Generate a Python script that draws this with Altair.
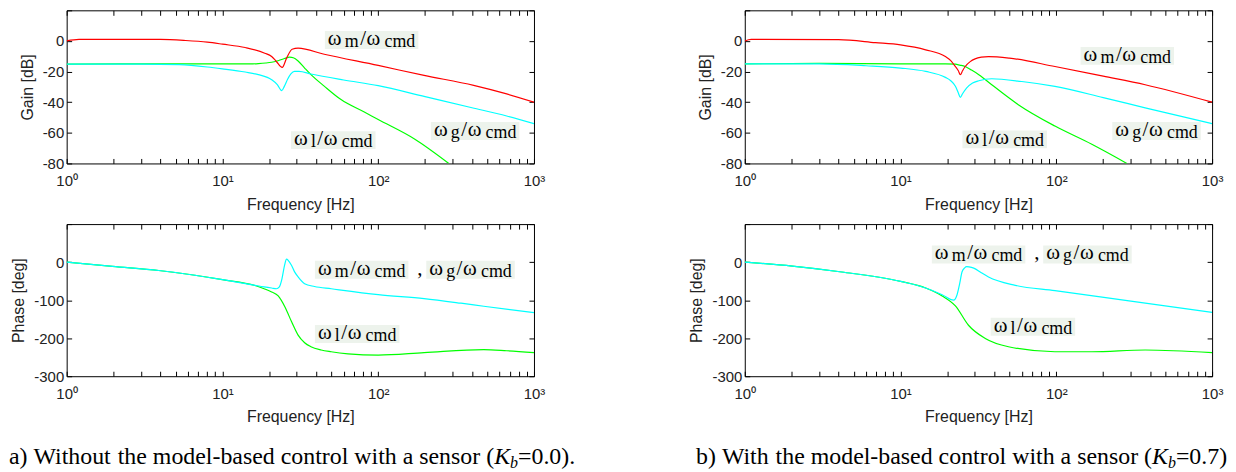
import altair as alt
import pandas as pd

# ------------------------------------------------------------------ data
# a) Kb = 0.0 : gain [dB]
FREQ_GA_M = [1, 1.2, 2, 3, 4, 5.8, 8, 10, 14, 18.7, 20.7, 22.2, 24.2, 25.8, 28, 30.6, 45, 100, 197, 410, 668, 1000]
GAIN_A_M = [0, 1, 1, 1, 1, 0.3, -0.8, -2.1, -4.3, -8, -10.2, -13.4, -17.3, -11.3, -5.4, -4.7, -8.7, -16, -22.5, -29, -34.6, -40]
FREQ_GA_G = [1, 3, 5.3, 8, 10, 14, 17, 20.7, 22.5, 24, 25, 26.2, 27.5, 29, 31, 37, 60, 100, 200, 400, 668, 1000]
GAIN_A_G = [-15.1, -15.1, -15.5, -17, -18.2, -20.3, -22, -25.3, -28.5, -32.5, -29.5, -25, -21.5, -19.9, -19.9, -21.6, -25.5, -29.2, -36.4, -43.6, -49, -54]
FREQ_GA_L = [1, 5.3, 10, 15, 17, 19, 20.7, 23, 25, 27, 28.5, 30.6, 33.7, 37, 45, 57.7, 82, 100, 171, 284]
GAIN_A_L = [-15.1, -15, -15, -15, -14.8, -14.4, -13.9, -12.8, -11.5, -10.6, -11, -13.1, -17.7, -22, -29.5, -38.3, -46.6, -51.3, -64, -80]

# a) Kb = 0.0 : phase [deg]
FREQ_PA_MG = [1, 1.97, 3.9, 10, 16.2, 18.5, 20.7, 22.2, 23.2, 24.1, 25, 25.8, 26.5, 27.8, 29, 30.6, 33.7, 39, 50, 100, 197, 340, 476, 1000]
PHASE_A_MG = [0, -11.4, -22, -46, -61, -65, -68, -70, -65, -44, -10, 8, 4, -9, -25, -39, -56.8, -64, -70, -85.6, -96, -108, -116, -133]
FREQ_PA_L = [1, 1.97, 3.9, 10, 16.2, 18.5, 20.7, 22.8, 25.2, 27.8, 30.6, 33.7, 37, 43, 49.9, 64, 100, 197, 476, 668, 1000]
PHASE_A_L = [0, -11.4, -22, -46, -61.5, -70, -78.5, -89, -118, -157, -192, -212, -222.5, -231, -235.6, -241, -244.5, -238, -230, -233, -238]

# b) Kb = 0.7 : gain [dB]
FREQ_GB_M = [1, 1.1, 4, 6.9, 10, 14.5, 19.4, 21, 22.5, 23.5, 24.2, 25, 26, 28, 30.1, 33, 36.7, 50, 98, 200, 372, 1000]
GAIN_B_M = [0, 1, 0.8, -1.1, -2.6, -5.8, -10.2, -12.8, -16.7, -19.5, -22, -19.5, -16.7, -13.5, -11.7, -10.6, -10.2, -11.2, -16.7, -23, -28.6, -40]
FREQ_GB_G = [1, 3, 6, 10, 14.5, 19.4, 21, 22.5, 23.5, 24.2, 25, 26.6, 29, 31.8, 38.5, 60, 98, 200, 372, 1000]
GAIN_B_G = [-15, -15, -16.2, -17.7, -19.9, -23.8, -26, -29.6, -34, -36.8, -34.5, -30.7, -27.5, -26, -24.7, -26.5, -29.7, -37, -43.7, -54]
FREQ_GB_L = [1, 3, 10, 19.4, 22.5, 24, 26, 28.5, 31.8, 38.5, 57, 98, 169, 284]
GAIN_B_L = [-15, -14.7, -15, -15, -15.2, -15.8, -16.7, -19, -22, -28.6, -41.6, -55.6, -67.5, -80]

# b) Kb = 0.7 : phase [deg]
FREQ_PB_MG = [1, 2.02, 4.2, 10, 14.5, 18.5, 21.9, 23, 24, 24.8, 25.8, 26.6, 27.5, 29.5, 33, 36.7, 54.5, 98, 293, 1000]
PHASE_B_MG = [0, -10.5, -26, -50.6, -68, -85.6, -100, -87, -55, -26, -15, -12, -12.5, -15.7, -28, -39, -61, -75, -102, -132]
FREQ_PB_L = [1, 2.02, 4.2, 10, 14.5, 18.5, 22.5, 27.3, 35, 49.3, 98, 169, 372, 1000]
PHASE_B_L = [0, -10.5, -26, -50.6, -68, -89, -115, -166, -200.8, -222.5, -235.6, -235.6, -231, -238]

# axis ticks / labels
X_MAJOR = [1, 10, 100, 1000]
X_MINOR = [k * 10 ** e for e in range(3) for k in range(1, 10)] + [1000]
GAIN_DOMAIN = [-80, 20]
GAIN_LABELS = [0, -20, -40, -60, -80]
GAIN_TICKS = [20, 0, -20, -40, -60, -80]
PHASE_DOMAIN = [-300, 100]
PHASE_LABELS = [0, -100, -200, -300]
PHASE_TICKS = [100, 0, -100, -200, -300]

# captions: (text, font size, style, baseline shift)
CAPTION_A = [("a) Without the model-based control with a sensor (", 24, "normal", 0),
             ("K", 24, "italic", 0), ("b", 16, "italic", 4), ("=0.0).", 24, "normal", 0)]
CAPTION_B = [("b) With the model-based control with a sensor (", 24, "normal", 0),
             ("K", 24, "italic", 0), ("b", 16, "italic", 4), ("=0.7)", 24, "normal", 0)]

# ------------------------------------------------------------------ style
RED, CYAN, GREEN = "#ff0000", "#00ffff", "#00ff00"
SANS = "Liberation Sans, Arial, sans-serif"
SERIF = "Liberation Serif, Times New Roman, Times, serif"
BOXC = "#edf3ec"
TXT = "#222222"
PW, GH, PH = 470, 154, 153
PXDEC = PW / 3.0

# Times-metric advance widths (1/1000 em) used to lay out caption words
TNR_W = {"a": 444, ")": 333, " ": 250, "W": 944, "i": 278, "t": 278, "h": 500, "o": 500, "u": 500,
         "e": 444, "m": 778, "d": 500, "l": 278, "-": 333, "b": 500, "s": 389, "c": 444, "n": 500,
         "r": 333, "w": 722, "(": 333, "K": 667, "=": 564, "0": 500, ".": 250, "7": 500}

XLABEL_EXPR = ("datum.value == 1 ? '10\u2070' : datum.value == 10 ? '10\u00b9' : "
               "datum.value == 100 ? '10\u00b2' : '10\u00b3'")


def ax_x_labels():
    return alt.Axis(orient="bottom", values=X_MAJOR, labelExpr=XLABEL_EXPR, ticks=False, domain=False,
                    grid=False, title="Frequency [Hz]", labelFont=SANS, labelFontSize=15, labelPadding=10,
                    labelFlush=False, labelBound=False, labelOverlap=False, labelColor=TXT,
                    titleFont=SANS, titleFontSize=16, titleFontWeight="normal", titleColor=TXT,
                    titlePadding=8)


def ax_y_labels(vals, title):
    return alt.Axis(orient="left", values=vals, labelExpr="'' + datum.value", ticks=False, domain=False,
                    grid=False, title=title, labelFont=SANS, labelFontSize=15, labelPadding=3,
                    labelFlush=False, labelOverlap=False, labelColor=TXT, titleFont=SANS, titleFontSize=16,
                    titleFontWeight="normal", titleColor=TXT, titlePadding=7)


def ax_ticks(orient, vals):
    return alt.Axis(orient=orient, values=vals, labels=False, domain=False, grid=False, ticks=True,
                    tickSize=5, offset=-5, tickColor="black", tickWidth=1, title=None)


def label_pieces(sub):
    subw = {"m": 14.0, "l": 5.0, "g": 9.0}[sub]
    s = 17.0
    slash = s + subw + 1.5
    om2 = slash + 6.5
    cmd = om2 + 18.0
    return [("\u03c9", 21, 0.0, 0), (sub, 18, s, 2), ("/", 21, slash, 0),
            ("\u03c9", 21, om2, 0), ("cmd", 18, cmd, 2)], cmd + 31.0


def caption_words(segments):
    out, x = [], 0.0
    for (seg, size, style, dy) in segments:
        words = seg.split(" ")
        for j, w in enumerate(words):
            if w:
                out.append((w, size, style, x, dy))
            x += sum(TNR_W[c] for c in w) * size / 1000.0
            if j < len(words) - 1:
                x += TNR_W[" "] * size / 1000.0
    return out


def panel(series, ydom, ylabels, yticks, ytitle, labels, height, caption=None, cap_dx=0.0):
    ppu = height / (ydom[1] - ydom[0])
    xs = alt.Scale(type="log", domain=[1, 1000], nice=False)
    ys = alt.Scale(domain=ydom, nice=False, zero=False)

    boxes, texts = [], []
    for lab in labels:
        kind, f0, v0 = lab[0], lab[1], lab[2]
        groups = []
        if kind == "pair":
            p1, w1 = label_pieces("m")
            p2, w2 = label_pieces("g")
            groups.append((0.0, p1, w1))
            groups.append((112.0, p2, w2))
            texts.append((f0, v0, ",", 21, 100.0, 0))
        else:
            p, w = label_pieces(kind)
            groups.append((0.0, p, w))
        for off, pieces, w in groups:
            boxes.append({"f": f0 * 10 ** ((off - 3) / PXDEC), "f2": f0 * 10 ** ((off + w + 3) / PXDEC),
                          "v": v0 + 14 / ppu, "v2": v0 - 4 / ppu})
            for (t, size, dx, dy) in pieces:
                texts.append((f0, v0, t, size, off + dx, dy))

    layers = [alt.Chart(pd.DataFrame(boxes)).mark_rect(color=BOXC).encode(
        x=alt.X("f:Q", scale=xs, axis=ax_ticks("bottom", X_MINOR)), x2="f2:Q",
        y=alt.Y("v:Q", scale=ys, axis=ax_ticks("left", yticks)), y2="v2:Q")]

    for i, (freqs, vals, color) in enumerate(series):
        df = pd.DataFrame({"f": freqs, "v": vals})
        if i == 0:
            axx, axy = ax_x_labels(), ax_y_labels(ylabels, ytitle)
        elif i == 1:
            axx, axy = ax_ticks("top", X_MINOR), ax_ticks("right", yticks)
        else:
            axx, axy = None, None
        layers.append(alt.Chart(df).mark_line(color=color, strokeWidth=1.2, clip=True,
                                              interpolate="monotone").encode(
            x=alt.X("f:Q", scale=xs, axis=axx), y=alt.Y("v:Q", scale=ys, axis=axy)))

    for (f0, v0, t, size, dx, dy) in texts:
        layers.append(alt.Chart(pd.DataFrame({"f": [f0], "v": [v0]})).mark_text(
            text=t, font=SERIF, fontSize=size, align="left", baseline="alphabetic",
            dx=dx, dy=dy, color="black").encode(
            x=alt.X("f:Q", scale=xs, axis=None), y=alt.Y("v:Q", scale=ys, axis=None)))

    if caption is not None:
        for (t, size, style, dx, dy) in caption_words(caption):
            layers.append(alt.Chart(pd.DataFrame({"f": [1], "v": [ydom[0]]})).mark_text(
                text=t, font=SERIF, fontSize=size, fontStyle=style, align="left",
                baseline="alphabetic", dx=cap_dx + dx, dy=88 + dy, color="black").encode(
                x=alt.X("f:Q", scale=xs, axis=None), y=alt.Y("v:Q", scale=ys, axis=None)))

    return alt.layer(*layers).resolve_axis(x="independent", y="independent").properties(
        width=PW, height=height)


gain_a = panel([(FREQ_GA_L, GAIN_A_L, GREEN), (FREQ_GA_G, GAIN_A_G, CYAN), (FREQ_GA_M, GAIN_A_M, RED)],
               GAIN_DOMAIN, GAIN_LABELS, GAIN_TICKS, "Gain [dB]",
               [("m", 47.5, -2.6), ("l", 28.8, -68.0), ("g", 227.7, -62.1)], GH)
phase_a = panel([(FREQ_PA_L, PHASE_A_L, GREEN), (FREQ_PA_MG, PHASE_A_MG, CYAN)],
                PHASE_DOMAIN, PHASE_LABELS, PHASE_TICKS, "Phase [deg]",
                [("pair", 41.0, -33.2), ("l", 41.0, -202.0)], PH, CAPTION_A, -58.0)
gain_b = panel([(FREQ_GB_L, GAIN_B_L, GREEN), (FREQ_GB_G, GAIN_B_G, CYAN), (FREQ_GB_M, GAIN_B_M, RED)],
               GAIN_DOMAIN, GAIN_LABELS, GAIN_TICKS, "Gain [dB]",
               [("m", 149.6, -13.0), ("l", 26.1, -67.5), ("g", 239.0, -62.1)], GH)
phase_b = panel([(FREQ_PB_L, PHASE_B_L, GREEN), (FREQ_PB_MG, PHASE_B_MG, CYAN)],
                PHASE_DOMAIN, PHASE_LABELS, PHASE_TICKS, "Phase [deg]",
                [("pair", 16.6, 7.0), ("l", 39.6, -183.0)], PH, CAPTION_B, -49.0)

chart = alt.concat(gain_a, gain_b, phase_a, phase_b, columns=2,
                   spacing={"row": 61, "column": 212}, bounds="flush").configure_view(
    stroke="black", strokeWidth=1, fill="white").properties(
    padding={"left": 0, "top": 0, "right": 0, "bottom": 0}, background="white")

chart.save("out.html", embed_options={"renderer": "svg", "actions": False})
